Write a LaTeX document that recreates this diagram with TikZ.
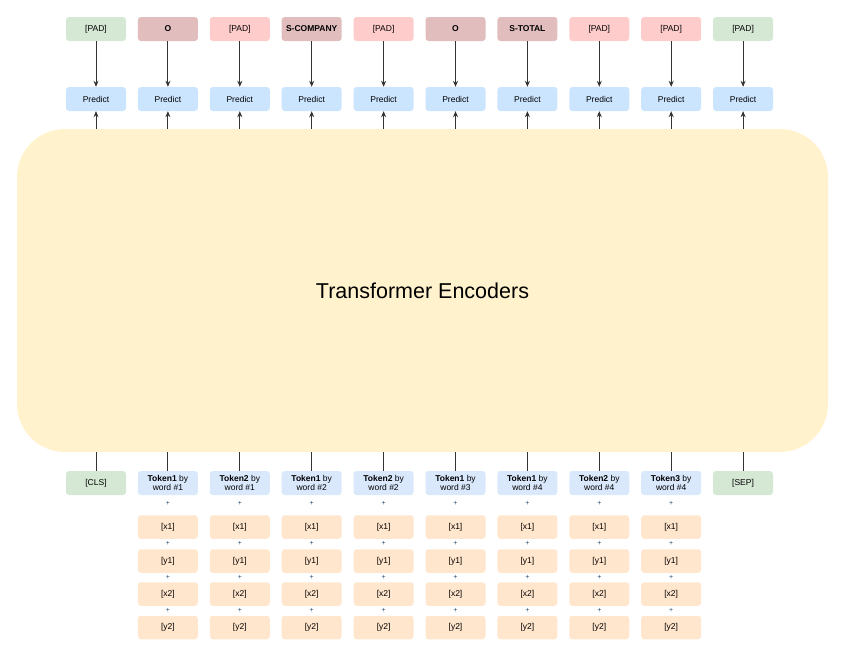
\documentclass[tikz,border=0pt]{standalone}
\usepackage{fontspec}
\setmainfont{Liberation Sans}
\usetikzlibrary{arrows.meta}
\definecolor{cgreen}{HTML}{D5E8D4}
\definecolor{cpink}{HTML}{FFCCCC}
\definecolor{cdred}{HTML}{E1BDBD}
\definecolor{cpred}{HTML}{CCE5FF}
\definecolor{ctok}{HTML}{DAE8FC}
\definecolor{corange}{HTML}{FFE6CC}
\definecolor{cyel}{HTML}{FFF2CC}
\definecolor{cline}{HTML}{333333}
\definecolor{cplus}{HTML}{2A4A68}
\begin{document}
\begin{tikzpicture}[x=1pt,y=-1pt,
  cell/.style={rounded corners=3pt,minimum width=60pt,minimum height=24pt,inner sep=0pt,
    font=\fontsize{8.5}{9.5}\selectfont,align=center,text=black},
  lbl/.style={cell,fill=#1},
  arr/.style={draw=cline,line width=0.9pt,-{Stealth[length=6pt,width=5pt]}},
  ln/.style={draw=cline,line width=0.9pt},
  plus/.style={font=\fontsize{7}{7}\selectfont,text=cplus,inner sep=0pt}]
\useasboundingbox (0,0) rectangle (846,662);
\node[fill=cyel,rounded corners=48pt,minimum width=811pt,minimum height=323pt,inner sep=0pt,
  font=\fontsize{21.5}{24}\selectfont] (tr) at (422.5,290.5) {Transformer Encoders};
% top labels
\foreach \i/\c/\t in {1/cgreen/{[PAD]},2/cdred/{\textbf{O}},3/cpink/{[PAD]},4/cdred/{\textbf{S-COMPANY}},5/cpink/{[PAD]},6/cdred/{\textbf{O}},7/cdred/{\textbf{S-TOTAL}},8/cpink/{[PAD]},9/cpink/{[PAD]},10/cgreen/{[PAD]}}{
  \pgfmathsetmacro{\xx}{96+(\i-1)*71.9}
  \node[lbl=\c] (top\i) at (\xx,29) {\t};
  \node[lbl=cpred] (pr\i) at (\xx,99) {Predict};
  \draw[arr] (top\i.south) -- (pr\i.north);
  \draw[arr] (pr\i.south |- tr.north) -- (pr\i.south);
}
% bottom tokens
\node[lbl=cgreen] (b1) at (96,483) {[CLS]};
\node[lbl=cgreen] (b10) at (743,483) {[SEP]};
\foreach \i/\a/\b in {2/1/1,3/2/1,4/1/2,5/2/2,6/1/3,7/1/4,8/2/4,9/3/4}{
  \pgfmathsetmacro{\xx}{96+(\i-1)*71.9}
  \node[lbl=ctok] (b\i) at (\xx,483) {\textbf{Token\a} by\\word \#\b};
  \node[plus] (p1\i) at (\xx,503) {+};
  \node[lbl=corange,minimum height=23.5pt] (x1\i) at (\xx,527) {[x1]};
  \node[plus] (p2\i) at (\xx,543.5) {+};
  \node[lbl=corange,minimum height=23.5pt] (y1\i) at (\xx,561) {[y1]};
  \node[plus] (p3\i) at (\xx,577.5) {+};
  \node[lbl=corange,minimum height=23.5pt] (x2\i) at (\xx,594) {[x2]};
  \node[plus] (p4\i) at (\xx,610.5) {+};
  \node[lbl=corange,minimum height=23.5pt] (y2\i) at (\xx,627.5) {[y2]};
}
\foreach \i in {1,...,10}{
  \draw[ln] (b\i.north |- tr.south) -- (b\i.north);
}
\end{tikzpicture}
\end{document}
